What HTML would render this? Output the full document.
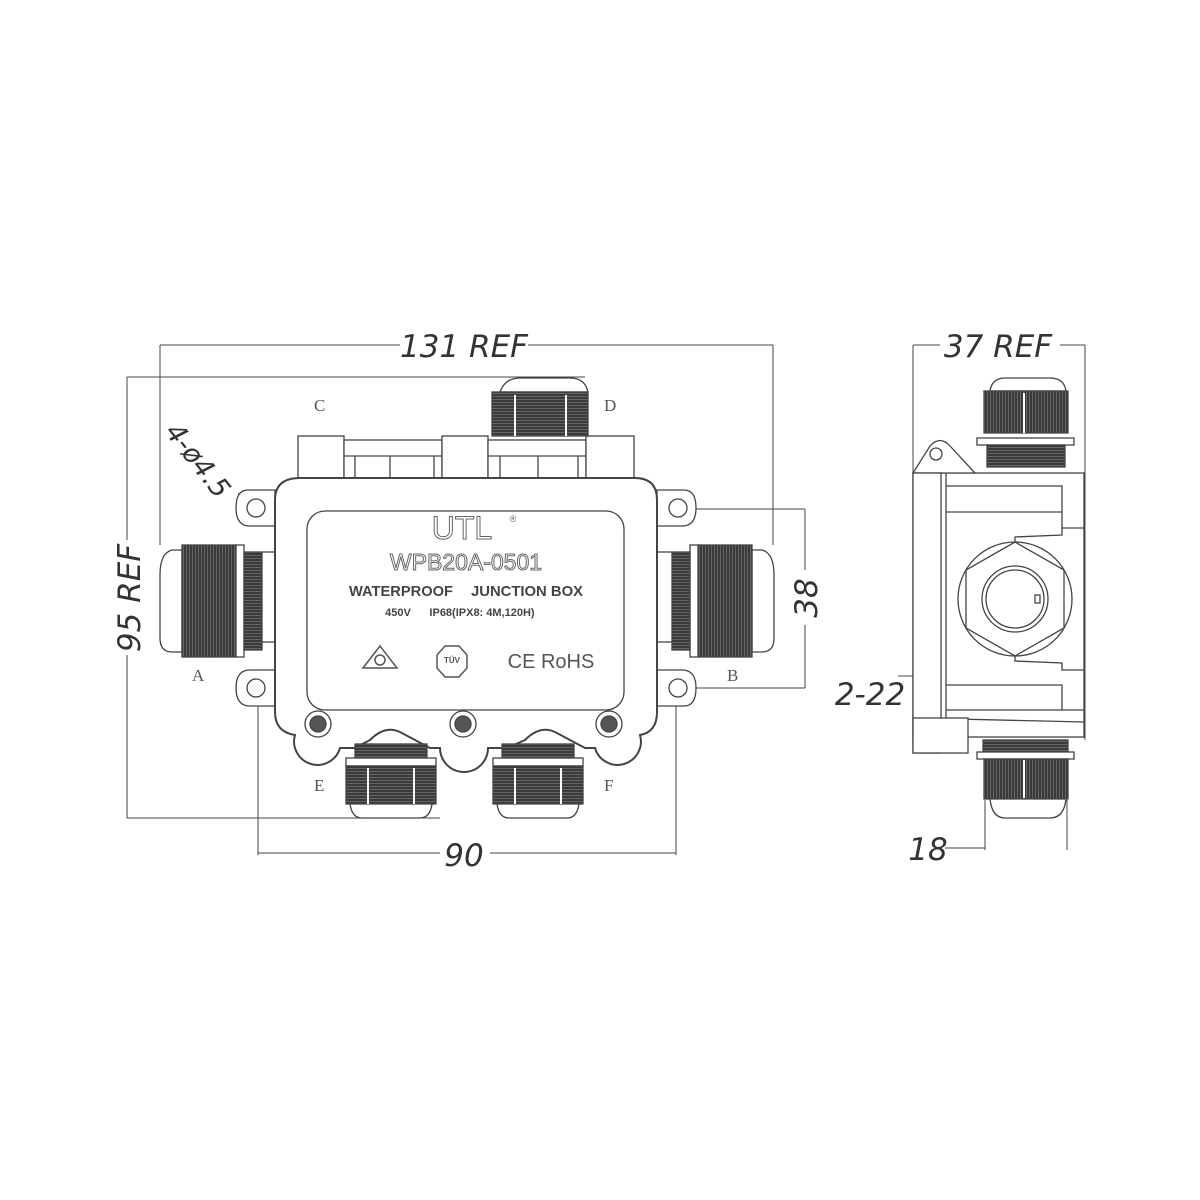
<!DOCTYPE html>
<html><head><meta charset="utf-8"><style>
html,body{margin:0;padding:0;background:#fff;}
svg{display:block}
.d{font-family:"DejaVu Sans","Liberation Sans",sans-serif;font-style:italic;fill:#333;}
.l{font-family:"Liberation Serif",serif;fill:#555;font-size:17px}
</style></head><body>
<svg width="1200" height="1200" viewBox="0 0 1200 1200" xmlns="http://www.w3.org/2000/svg">
<defs>
<pattern id="st" width="3" height="3" patternUnits="userSpaceOnUse"><rect width="3" height="3" fill="#3a3a3a"/><rect width="3" height="1" fill="#666"/></pattern>
<pattern id="sv" width="3" height="3" patternUnits="userSpaceOnUse"><rect width="3" height="3" fill="#3a3a3a"/><rect width="1" height="3" fill="#666"/></pattern>
</defs>
<g stroke="#444" stroke-width="1" fill="none">
<line x1="160" y1="345" x2="400" y2="345"/><line x1="528" y1="345" x2="773" y2="345"/>
<line x1="160" y1="345" x2="160" y2="545"/><line x1="773" y1="345" x2="773" y2="545"/>
<line x1="127" y1="377" x2="127" y2="540"/><line x1="127" y1="655" x2="127" y2="818"/>
<line x1="127" y1="377" x2="585" y2="377"/><line x1="127" y1="818" x2="440" y2="818"/>
<line x1="258" y1="690" x2="258" y2="855"/><line x1="676" y1="690" x2="676" y2="855"/>
<line x1="258" y1="853" x2="440" y2="853"/><line x1="490" y1="853" x2="676" y2="853"/>
<line x1="680" y1="509" x2="805" y2="509"/><line x1="680" y1="688" x2="805" y2="688"/>
<line x1="805" y1="509" x2="805" y2="570"/><line x1="805" y1="625" x2="805" y2="688"/>
<line x1="913" y1="345" x2="940" y2="345"/><line x1="1060" y1="345" x2="1085" y2="345"/>
<line x1="913" y1="345" x2="913" y2="480"/><line x1="1085" y1="345" x2="1085" y2="740"/>
<line x1="898" y1="676" x2="1066" y2="676"/>
<line x1="964" y1="640" x2="964" y2="676"/><line x1="1065" y1="640" x2="1065" y2="676"/>
<line x1="945" y1="848" x2="985" y2="848"/><line x1="985" y1="800" x2="985" y2="850"/><line x1="1067" y1="800" x2="1067" y2="850"/>
<line x1="238" y1="493" x2="248" y2="503"/>
</g>
<g class="d">
<text x="464" y="357" font-size="31" text-anchor="middle">131 REF</text>
<text x="998" y="357" font-size="31" text-anchor="middle">37 REF</text>
<text x="464" y="866" font-size="31" text-anchor="middle">90</text>
<text x="928" y="860" font-size="31" text-anchor="middle">18</text>
<text x="870" y="705" font-size="31" text-anchor="middle">2-22</text>
<text transform="translate(140,598) rotate(-90)" font-size="31" text-anchor="middle">95 REF</text>
<text transform="translate(817,598) rotate(-90)" font-size="31" text-anchor="middle">38</text>
<text transform="translate(164,432) rotate(52)" font-size="27">4-ø4.5</text>
</g>
<g class="l"><text x="192" y="681">A</text><text x="727" y="681">B</text><text x="314" y="411">C</text><text x="604" y="411">D</text><text x="314" y="791">E</text><text x="604" y="791">F</text></g>

<g stroke="#444" stroke-width="1.3" fill="#fff">
<rect x="298" y="436" width="46" height="44"/><rect x="344" y="440" width="98" height="40"/>
<rect x="442" y="436" width="46" height="44"/><rect x="488" y="440" width="98" height="40"/>
<rect x="586" y="436" width="48" height="44"/>
<line x1="355" y1="456" x2="355" y2="480"/><line x1="390" y1="456" x2="390" y2="480"/><line x1="434" y1="456" x2="434" y2="480"/><line x1="344" y1="456" x2="442" y2="456"/>
<line x1="500" y1="456" x2="500" y2="480"/><line x1="538" y1="456" x2="538" y2="480"/><line x1="578" y1="456" x2="578" y2="480"/><line x1="488" y1="456" x2="586" y2="456"/>
<path d="M500 392 Q505 378 520 378 L570 378 Q585 378 588 392 Z"/>
<rect x="492" y="392" width="96" height="44" fill="url(#st)"/>
<line x1="515" y1="395" x2="515" y2="436" stroke="#fff" stroke-width="2"/><line x1="566" y1="395" x2="566" y2="436" stroke="#fff" stroke-width="2"/>
<path d="M275 490 L248 490 Q236 490 236 508 Q236 526 250 526 L275 526 Z"/>
<path d="M657 490 L684 490 Q696 490 696 508 Q696 526 682 526 L657 526 Z"/>
<path d="M275 670 L250 670 Q236 670 236 688 Q236 706 250 706 L275 706 Z"/>
<path d="M657 670 L682 670 Q696 670 696 688 Q696 706 684 706 L657 706 Z"/>
<circle cx="256" cy="508" r="9"/><circle cx="678" cy="508" r="9"/><circle cx="256" cy="688" r="9"/><circle cx="678" cy="688" r="9"/>
<path d="M182 550 L172 550 Q160 553 160 575 L160 638 Q160 652 172 652 L182 652 Z"/>
<rect x="182" y="545" width="54" height="112" fill="url(#sv)"/>
<rect x="236" y="545" width="8" height="112"/>
<rect x="244" y="552" width="18" height="98" fill="url(#st)"/>
<rect x="262" y="552" width="14" height="90"/>
<path d="M752 550 L762 550 Q774 553 774 575 L774 638 Q774 652 762 652 L752 652 Z"/>
<rect x="698" y="545" width="54" height="112" fill="url(#sv)"/>
<rect x="690" y="545" width="8" height="112"/>
<rect x="672" y="552" width="18" height="98" fill="url(#st)"/>
<rect x="657" y="552" width="15" height="90"/>
<path d="M300 478 L635 478 Q657 478 657 500 L657 712 Q657 732 640 735 A22 22 0 0 1 595 748 L585 748 Q570 740 555 732 Q540 725 525 740 L507 748 L488 748 A22 22 0 0 1 440 748 L430 748 Q415 740 400 732 Q385 725 370 740 L355 748 L340 748 A22 22 0 0 1 295 735 Q275 732 275 712 L275 500 Q275 478 300 478 Z" stroke-width="2"/>
<rect x="307" y="511" width="317" height="199" rx="18"/>
<circle cx="318" cy="724" r="13"/><circle cx="318" cy="724" r="8" fill="#555"/>
<circle cx="463" cy="724" r="13"/><circle cx="463" cy="724" r="8" fill="#555"/>
<circle cx="609" cy="724" r="13"/><circle cx="609" cy="724" r="8" fill="#555"/>
<rect x="355" y="744" width="72" height="14" fill="url(#st)"/>
<rect x="346" y="758" width="90" height="8"/>
<rect x="346" y="766" width="90" height="38" fill="url(#st)"/>
<path d="M350 804 L432 804 Q430 818 420 818 L362 818 Q352 818 350 804 Z"/>
<rect x="502" y="744" width="72" height="14" fill="url(#st)"/>
<rect x="493" y="758" width="90" height="8"/>
<rect x="493" y="766" width="90" height="38" fill="url(#st)"/>
<path d="M497 804 L579 804 Q577 818 567 818 L509 818 Q499 818 497 804 Z"/>
<line x1="368" y1="768" x2="368" y2="804" stroke="#fff" stroke-width="2"/><line x1="414" y1="768" x2="414" y2="804" stroke="#fff" stroke-width="2"/>
<line x1="515" y1="768" x2="515" y2="804" stroke="#fff" stroke-width="2"/><line x1="561" y1="768" x2="561" y2="804" stroke="#fff" stroke-width="2"/>
</g>
<g font-family="Liberation Sans,sans-serif" text-anchor="middle">
<text x="462" y="539" font-size="32" fill="#fff" stroke="#666" stroke-width="1">UTL</text>
<text x="513" y="522" font-size="9" fill="#666">®</text>
<text x="466" y="570" font-size="23" fill="#fff" stroke="#666" stroke-width="1">WPB20A-0501</text>
<text x="401" y="596" font-size="15" font-weight="bold" fill="#444" textLength="104" lengthAdjust="spacingAndGlyphs">WATERPROOF</text>
<text x="527" y="596" font-size="15" font-weight="bold" fill="#444" textLength="112" lengthAdjust="spacingAndGlyphs">JUNCTION BOX</text>
<text x="398" y="616" font-size="11" font-weight="bold" fill="#444">450V</text>
<text x="482" y="616" font-size="11" font-weight="bold" fill="#444">IP68(IPX8: 4M,120H)</text>
<text x="551" y="668" font-size="20" fill="#555">CE RoHS</text>
<text x="452" y="663" font-size="8" font-weight="bold" fill="#555">TÜV</text>
</g>
<g stroke="#555" stroke-width="1.5" fill="none">
<path d="M363 668 L380 646 L397 668 Z"/><circle cx="380" cy="660" r="5"/>
<polygon points="445,646 459,646 467,655 467,668 459,677 445,677 437,668 437,655"/>
</g>

<!-- side view -->
<g stroke="#444" stroke-width="1.3" fill="#fff">
<path d="M990 391 Q992 378 1005 378 L1050 378 Q1064 378 1066 391 Z"/>
<rect x="984" y="391" width="84" height="42" fill="url(#sv)"/>
<line x1="1024" y1="393" x2="1024" y2="433" stroke="#fff" stroke-width="2"/>
<rect x="977" y="438" width="97" height="7"/>
<rect x="987" y="445" width="78" height="22" fill="url(#st)"/>
<rect x="913" y="473" width="171" height="264"/>
<path d="M913 473 L930 446 Q940 435 950 446 L975 473 Z"/>
<circle cx="936" cy="454" r="6"/>
<rect x="913" y="473" width="28" height="280"/>
<line x1="946" y1="473" x2="946" y2="753"/>
<polyline points="946,486 1062,486 1062,528 1084,528" fill="none"/>
<line x1="946" y1="512" x2="1062" y2="512"/>
<polyline points="1015,542 1015,537 1062,535 1062,528" fill="none"/>
<polyline points="946,685 1062,685 1062,710 1084,710" fill="none"/>
<line x1="946" y1="710" x2="1062" y2="710"/>
<polyline points="1015,656 1015,661 1062,663 1062,670 1084,670" fill="none"/>
<line x1="913" y1="718" x2="1084" y2="722" />
<rect x="913" y="718" width="55" height="35"/>
<polygon points="1015,542 1064,570 1064,628 1015,656 966,628 966,570"/>
<circle cx="1015" cy="599" r="57" fill="none"/>
<circle cx="1015" cy="599" r="33"/>
<circle cx="1015" cy="599" r="29"/>
<rect x="1035" y="595" width="5" height="8"/>
<rect x="983" y="740" width="85" height="12" fill="url(#st)"/>
<rect x="977" y="752" width="97" height="7"/>
<rect x="984" y="759" width="84" height="40" fill="url(#sv)"/>
<line x1="1024" y1="760" x2="1024" y2="798" stroke="#fff" stroke-width="2"/>
<path d="M990 799 L1066 799 Q1064 818 1050 818 L1005 818 Q992 818 990 799 Z"/>
</g>
</svg>
</body></html>
